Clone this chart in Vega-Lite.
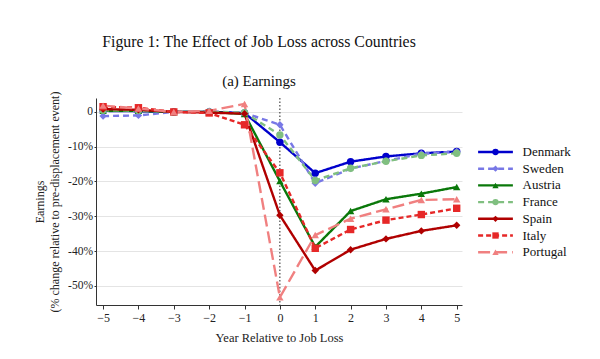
{
  "$schema": "https://vega.github.io/schema/vega-lite/v6.json",
  "width": 366,
  "height": 207,
  "autosize": "none",
  "padding": {"left": 96, "top": 98, "right": 138, "bottom": 54},
  "background": "white",
  "config": {
    "font": "Liberation Serif",
    "view": {"stroke": null},
    "axis": {"labelFont": "Liberation Serif", "titleFont": "Liberation Serif", "labelColor": "#222", "titleColor": "#222", "domainColor": "#333", "tickColor": "#333", "titleFontWeight": "normal"},
    "legend": {"labelFont": "Liberation Serif"}
  },
  "title": {
    "text": "Figure 1: The Effect of Job Loss across Countries",
    "subtitle": "(a) Earnings",
    "font": "Liberation Serif",
    "subtitleFont": "Liberation Serif",
    "fontSize": 15.8,
    "subtitleFontSize": 15,
    "fontWeight": "normal",
    "color": "#111",
    "subtitleColor": "#111",
    "anchor": "middle",
    "frame": "group",
    "dx": -20,
    "offset": 1,
    "subtitlePadding": 23
  },
  "data": {
    "values": [
      {"year": -5, "country": "Denmark", "value": 0.3},
      {"year": -4, "country": "Denmark", "value": 0.2},
      {"year": -3, "country": "Denmark", "value": 0},
      {"year": -2, "country": "Denmark", "value": 0},
      {"year": -1, "country": "Denmark", "value": -0.3},
      {"year": 0, "country": "Denmark", "value": -8.7},
      {"year": 1, "country": "Denmark", "value": -17.6},
      {"year": 2, "country": "Denmark", "value": -14.3},
      {"year": 3, "country": "Denmark", "value": -12.8},
      {"year": 4, "country": "Denmark", "value": -11.9},
      {"year": 5, "country": "Denmark", "value": -11.4},
      {"year": -5, "country": "Sweden", "value": -1.2},
      {"year": -4, "country": "Sweden", "value": -1.0},
      {"year": -3, "country": "Sweden", "value": 0},
      {"year": -2, "country": "Sweden", "value": 0.2},
      {"year": -1, "country": "Sweden", "value": -0.3},
      {"year": 0, "country": "Sweden", "value": -3.7},
      {"year": 1, "country": "Sweden", "value": -20.5},
      {"year": 2, "country": "Sweden", "value": -16.3},
      {"year": 3, "country": "Sweden", "value": -14.1},
      {"year": 4, "country": "Sweden", "value": -12.0},
      {"year": 5, "country": "Sweden", "value": -11.4},
      {"year": -5, "country": "Austria", "value": 0.3},
      {"year": -4, "country": "Austria", "value": 0.3},
      {"year": -3, "country": "Austria", "value": 0},
      {"year": -2, "country": "Austria", "value": 0},
      {"year": -1, "country": "Austria", "value": -0.6},
      {"year": 0, "country": "Austria", "value": -19.9},
      {"year": 1, "country": "Austria", "value": -38.8},
      {"year": 2, "country": "Austria", "value": -28.5},
      {"year": 3, "country": "Austria", "value": -25.1},
      {"year": 4, "country": "Austria", "value": -23.5},
      {"year": 5, "country": "Austria", "value": -21.6},
      {"year": -5, "country": "France", "value": 0.5},
      {"year": -4, "country": "France", "value": 0.4},
      {"year": -3, "country": "France", "value": 0},
      {"year": -2, "country": "France", "value": 0},
      {"year": -1, "country": "France", "value": -0.2},
      {"year": 0, "country": "France", "value": -6.6},
      {"year": 1, "country": "France", "value": -19.7},
      {"year": 2, "country": "France", "value": -16.2},
      {"year": 3, "country": "France", "value": -14.2},
      {"year": 4, "country": "France", "value": -12.5},
      {"year": 5, "country": "France", "value": -11.9},
      {"year": -5, "country": "Spain", "value": 0.8},
      {"year": -4, "country": "Spain", "value": 0.6},
      {"year": -3, "country": "Spain", "value": 0},
      {"year": -2, "country": "Spain", "value": -0.2},
      {"year": -1, "country": "Spain", "value": -0.5},
      {"year": 0, "country": "Spain", "value": -29.7},
      {"year": 1, "country": "Spain", "value": -45.6},
      {"year": 2, "country": "Spain", "value": -39.6},
      {"year": 3, "country": "Spain", "value": -36.5},
      {"year": 4, "country": "Spain", "value": -34.2},
      {"year": 5, "country": "Spain", "value": -32.6},
      {"year": -5, "country": "Italy", "value": 1.5},
      {"year": -4, "country": "Italy", "value": 1.2},
      {"year": -3, "country": "Italy", "value": 0},
      {"year": -2, "country": "Italy", "value": -0.3},
      {"year": -1, "country": "Italy", "value": -3.7},
      {"year": 0, "country": "Italy", "value": -17.5},
      {"year": 1, "country": "Italy", "value": -39.2},
      {"year": 2, "country": "Italy", "value": -33.8},
      {"year": 3, "country": "Italy", "value": -31.1},
      {"year": 4, "country": "Italy", "value": -29.5},
      {"year": 5, "country": "Italy", "value": -27.7},
      {"year": -5, "country": "Portugal", "value": 1.8},
      {"year": -4, "country": "Portugal", "value": 1.0},
      {"year": -3, "country": "Portugal", "value": 0},
      {"year": -2, "country": "Portugal", "value": 0.3},
      {"year": -1, "country": "Portugal", "value": 2.3},
      {"year": 0, "country": "Portugal", "value": -53.3},
      {"year": 1, "country": "Portugal", "value": -35.4},
      {"year": 2, "country": "Portugal", "value": -30.7},
      {"year": 3, "country": "Portugal", "value": -28.0},
      {"year": 4, "country": "Portugal", "value": -25.3},
      {"year": 5, "country": "Portugal", "value": -25.1}
    ]
  },
  "encoding": {
    "x": {
      "field": "year",
      "type": "quantitative",
      "scale": {"domain": [-5.2, 5.15], "nice": false, "zero": false},
      "axis": {"values": [-5, -4, -3, -2, -1, 0, 1, 2, 3, 4, 5], "grid": false, "title": "Year Relative to Job Loss", "titleFontSize": 12.5, "labelFontSize": 12, "tickSize": 4, "labelPadding": 3, "titlePadding": 8}
    },
    "y": {
      "field": "value",
      "type": "quantitative",
      "scale": {"domain": [-55.5, 4], "nice": false, "zero": false},
      "axis": {"values": [-50, -40, -30, -20, -10, 0], "grid": true, "gridColor": "#e4e4e4", "labelExpr": "datum.value == 0 ? '0' : datum.value + '%'", "title": ["Earnings", "(% change relative to pre-displacement event)"], "titleFontSize": 12, "labelFontSize": 11.5, "tickSize": 2, "labelPadding": 1.5, "titlePadding": 6, "titleLineHeight": 15}
    }
  },
  "layer": [
    {
      "data": {"values": [{"year": 0}]},
      "mark": {"type": "rule", "color": "#222", "strokeDash": [1.5, 2], "strokeWidth": 1},
      "encoding": {"y": null}
    },
    {
      "mark": {"type": "line", "strokeWidth": 2.4},
      "encoding": {
        "color": {
          "field": "country",
          "type": "nominal",
          "scale": {"domain": ["Denmark", "Sweden", "Austria", "France", "Spain", "Italy", "Portugal"], "range": ["#0000CC", "#7878E6", "#0A780A", "#80BF80", "#B00000", "#E62828", "#F08080"]},
          "legend": {"title": null, "orient": "none", "legendX": 393, "legendY": 47.5, "symbolType": "M-5.5,0H5.5", "symbolSize": 40, "symbolStrokeWidth": 2.4, "labelFontSize": 13, "labelColor": "#111", "rowPadding": 2.7, "labelOffset": 20.5}
        },
        "strokeDash": {
          "field": "country",
          "type": "nominal",
          "scale": {"domain": ["Denmark", "Sweden", "Austria", "France", "Spain", "Italy", "Portugal"], "range": [[1, 0], [6, 4], [1, 0], [6, 4], [1, 0], [5, 3], [12, 5]]},
          "legend": {"title": null, "orient": "none", "legendX": 393, "legendY": 47.5, "symbolType": "M-5.5,0H5.5", "symbolSize": 40, "symbolStrokeWidth": 2.4, "labelFontSize": 13, "labelColor": "#111", "rowPadding": 2.7, "labelOffset": 20.5}
        }
      }
    },
    {
      "mark": {"type": "point", "filled": true, "size": 55, "opacity": 1},
      "encoding": {
        "color": {
          "field": "country",
          "type": "nominal",
          "scale": {"domain": ["Denmark", "Sweden", "Austria", "France", "Spain", "Italy", "Portugal"], "range": ["#0000CC", "#7878E6", "#0A780A", "#80BF80", "#B00000", "#E62828", "#F08080"]},
          "legend": {"title": null, "orient": "none", "legendX": 393, "legendY": 47.5, "symbolSize": 40, "labelFontSize": 13, "labelOpacity": 0, "rowPadding": 2.7, "labelOffset": 20.5, "symbolOpacity": 1}
        },
        "shape": {
          "field": "country",
          "type": "nominal",
          "scale": {"domain": ["Denmark", "Sweden", "Austria", "France", "Spain", "Italy", "Portugal"], "range": ["circle", "diamond", "triangle-up", "circle", "diamond", "square", "triangle-up"]},
          "legend": {"title": null, "orient": "none", "legendX": 393, "legendY": 47.5, "symbolSize": 40, "labelFontSize": 13, "labelOpacity": 0, "rowPadding": 2.7, "labelOffset": 20.5, "symbolOpacity": 1}
        }
      }
    }
  ],
  "resolve": {"legend": {"color": "independent", "shape": "independent", "strokeDash": "independent"}}
}
